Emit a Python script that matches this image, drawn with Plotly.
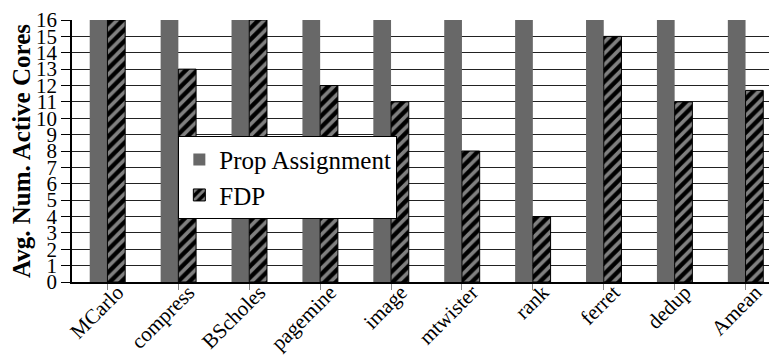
import plotly.graph_objects as go

categories = ["MCarlo", "compress", "BScholes", "pagemine", "image", "mtwister", "rank", "ferret", "dedup", "Amean"]
prop_assignment = [16, 16, 16, 16, 16, 16, 16, 16, 16, 16]
fdp = [16, 13, 16, 12, 11, 8, 4, 15, 11, 11.7]
y_ticks = list(range(0, 17))

FONT = "Liberation Serif"

fig = go.Figure()
fig.add_trace(go.Bar(
    x=categories, y=prop_assignment, name="Prop Assignment",
    marker=dict(color="#686868", line=dict(width=0)),
))
fig.add_trace(go.Bar(
    x=categories, y=fdp, name="FDP",
    marker=dict(color="black", line=dict(color="black", width=1),
                pattern=dict(shape="/", bgcolor="black", fgcolor="white", size=8, solidity=0.45)),
))

fig.update_layout(
    width=777, height=355,
    margin=dict(l=63.5, r=3.5, t=12, b=81, autoexpand=False),
    paper_bgcolor="white", plot_bgcolor="white",
    barmode="group", bargap=0.5, bargroupgap=0,
    font=dict(family=FONT, color="black", size=21),
    showlegend=True,
    legend=dict(x=0.150, y=0.40, xanchor="left", yanchor="middle",
                bgcolor="white", bordercolor="black", borderwidth=1,
                font=dict(size=25, family=FONT), tracegroupgap=0,
                itemwidth=30),
    xaxis=dict(
        range=[-0.5, 9.5], automargin=False,
        tickangle=-45, ticks="outside", ticklen=6, tickcolor="#888",
        showline=True, linecolor="black", linewidth=1.5,
        showgrid=False,
        tickfont=dict(size=21, family=FONT),
        ticklabelshift=10, ticklabelstandoff=-18,
    ),
    yaxis=dict(
        range=[0, 16], tickvals=y_ticks, ticktext=[str(v) for v in y_ticks],
        automargin=False,
        ticks="outside", ticklen=9, tickcolor="black",
        showline=True, linecolor="black", linewidth=1.5,
        showgrid=True, gridcolor="#222", gridwidth=1,
        tickfont=dict(size=21, family=FONT),
        title=dict(text="<b>Avg. Num. Active Cores</b>", font=dict(size=25, family=FONT), standoff=19),
    ),
)

fig.write_html("out.html")
